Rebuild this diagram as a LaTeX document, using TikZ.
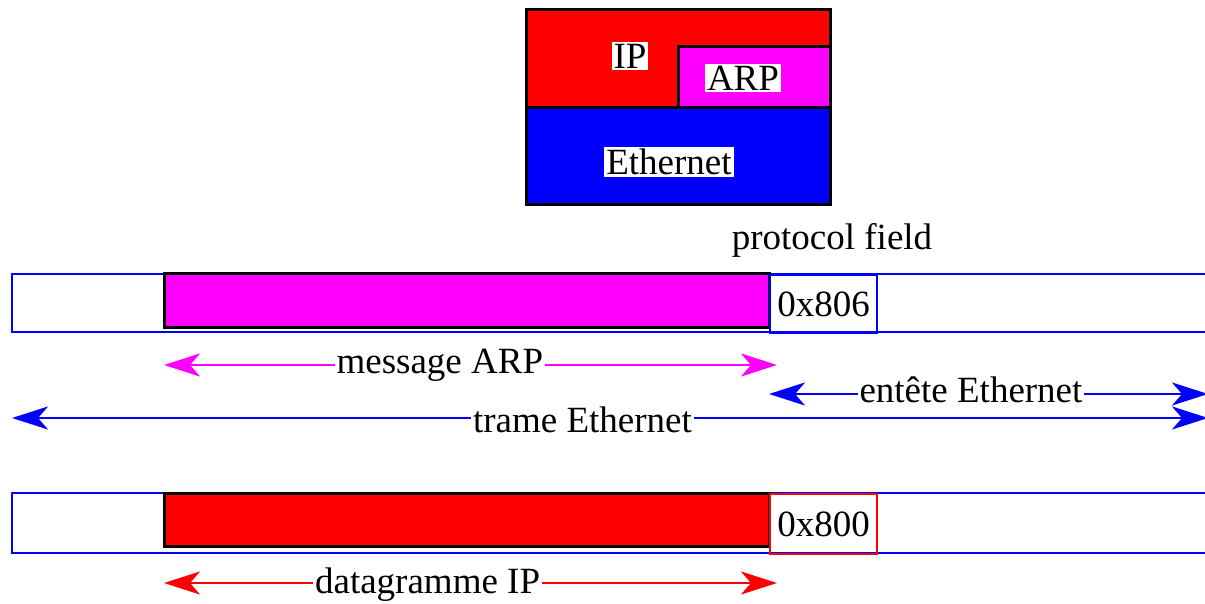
\documentclass[tikz,border=0pt]{standalone}
\usepackage{fontspec}
\setmainfont{Liberation Serif}
\usetikzlibrary{arrows.meta,positioning}
\definecolor{arpmag}{RGB}{255,0,255}
\definecolor{ipred}{RGB}{255,0,0}
\definecolor{ethblue}{RGB}{0,0,255}

\begin{document}
\begin{tikzpicture}[
  x=0.5pt,y=-0.5pt,
  lbl/.style={font=\fontsize{18.5}{20}\selectfont,inner sep=1pt},
  wlbl/.style={lbl,fill=white},
  layer/.style={draw=black,line width=1.5pt},
  frame/.style={draw=ethblue,line width=1.4pt},
  field/.style={lbl,line width=1.2pt,anchor=north west,minimum width=53.5pt},
  dim/.style={{Stealth[length=18pt,width=11.5pt,inset=5pt]}-{Stealth[length=18pt,width=11.5pt,inset=5pt]},line width=1.3pt}]
\useasboundingbox (0,0) rectangle (1205,604);
\clip (0,0) rectangle (1205,604);
% protocol stack
\draw[layer,fill=ipred] (526,10) rectangle (830,108);
\draw[layer,fill=arpmag] (678,47) rectangle (830,108);
\draw[layer,fill=ethblue] (526,108) rectangle (830,205);
\node[wlbl] (ip) at (630,56) {IP};
\node[wlbl] (arp) at (743,78) {ARP};
\node[wlbl] (eth) at (669,162) {Ethernet};
\node[lbl] (proto) at (832,240) {protocol field};
% frame with ARP
\draw[frame] (12,274) rectangle (1230,332);
\draw[layer,fill=arpmag] (164,274) rectangle (769,328);
\node[field,draw=ethblue,minimum height=29pt] (type1) at (769,274) {0x806};
\coordinate (m1) at (164,365);
\coordinate (m2) at (777,365);
\coordinate (h1) at (769,394);
\coordinate (h2) at (1208,394);
\coordinate (t1) at (12,418);
\coordinate (t2) at (1208,418);
\draw[dim,arpmag] (m1)--node[wlbl,text=black,pos=.45]{message ARP}(m2);
\draw[dim,ethblue] (h1)--node[wlbl,text=black,pos=.46,yshift=2pt]{entête Ethernet}(h2);
\draw[dim,ethblue] (t1)--node[wlbl,text=black,pos=.477,yshift=-1pt]{trame Ethernet}(t2);
% frame with IP
\draw[frame] (12,493) rectangle (1230,553);
\draw[layer,fill=ipred] (164,493) rectangle (769,546);
\node[field,draw=ipred,minimum height=30pt] (type2) at (769,493) {0x800};
\coordinate (d1) at (164,583);
\coordinate (d2) at (777,583);
\draw[dim,ipred] (d1)--node[wlbl,text=black,pos=.43,yshift=-1pt]{datagramme IP}(d2);
\end{tikzpicture}
\end{document}
